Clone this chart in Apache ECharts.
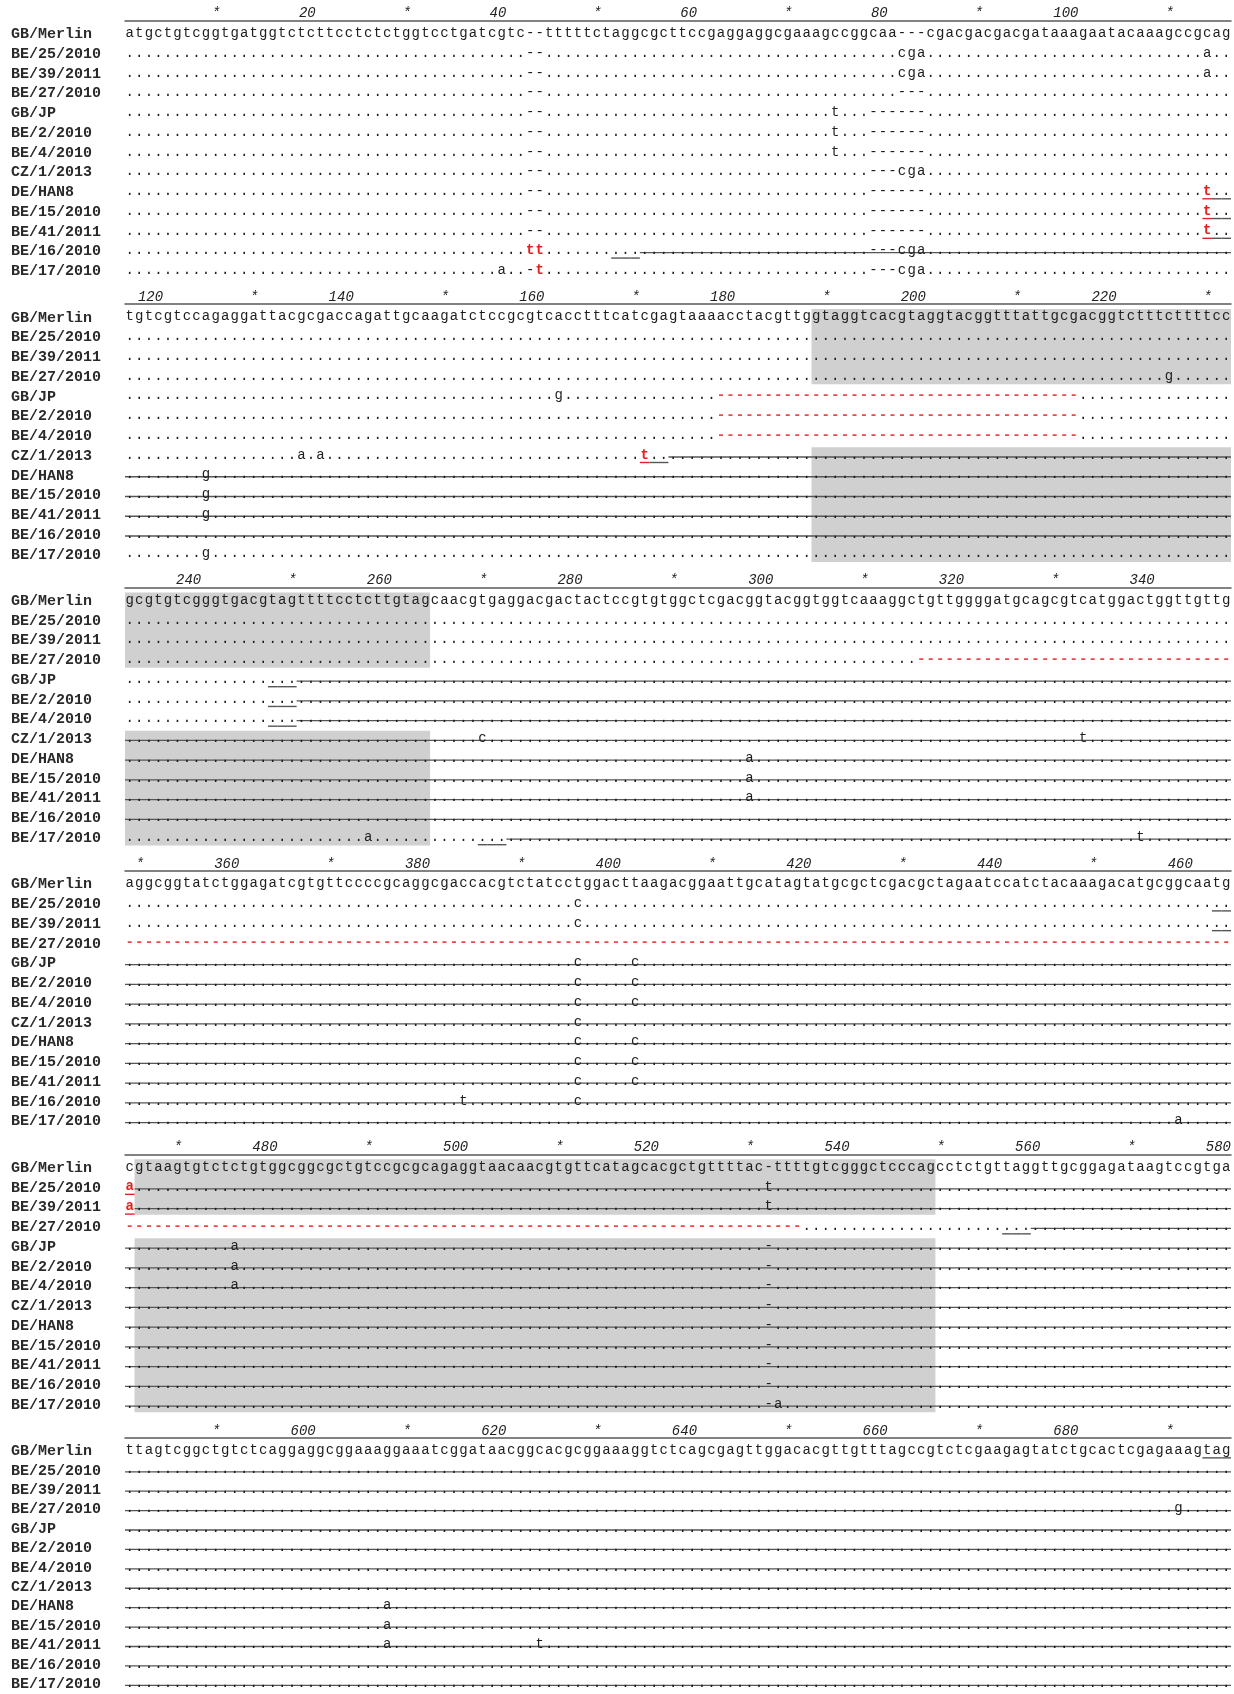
<!DOCTYPE html>
<html>
<head>
<meta charset="utf-8">
<script src="https://cdn.jsdelivr.net/npm/echarts@6/dist/echarts.min.js"></script>
<style>
  html, body { margin: 0; padding: 0; background: #ffffff; }
  #chart { width: 1234px; height: 1694px; }
</style>
</head>
<body>
<div id="chart"></div>
<script>
// ---- alignment data -------------------------------------------------------
const taxa = ['GB/Merlin', 'BE/25/2010', 'BE/39/2011', 'BE/27/2010', 'GB/JP', 'BE/2/2010',
  'BE/4/2010', 'CZ/1/2013', 'DE/HAN8', 'BE/15/2010', 'BE/41/2011', 'BE/16/2010', 'BE/17/2010'];

// first alignment column of each printed block; every block holds 116 columns
const blockStarts = [1, 117, 233, 349, 465, 581];
const blockWidth = 116;

// '.' = identical to GB/Merlin, '-' = gap
const D = '..........';
const G = '----------';

const block1 = [
  'atgctgtcggtgatggtctcttcctctctggtcctgatcgtc--tttttctaggcgcttccgaggaggcgaaagccggcaa---cgacgacgacgataaagaatacaaagccgcag',
  D + D + D + D + '..--......' + D + D + D + '.cga......' + D + D + '...a..',
  D + D + D + D + '..--......' + D + D + D + '.cga......' + D + D + '...a..',
  D + D + D + D + '..--......' + D + D + D + '.---......' + D + D + '......',
  D + D + D + D + '..--......' + D + D + '....t...--' + '----......' + D + D + '......',
  D + D + D + D + '..--......' + D + D + '....t...--' + '----......' + D + D + '......',
  D + D + D + D + '..--......' + D + D + '....t...--' + '----......' + D + D + '......',
  D + D + D + D + '..--......' + D + D + '........--' + '-cga......' + D + D + '......',
  D + D + D + D + '..--......' + D + D + '........--' + '----......' + D + D + '...t..',
  D + D + D + D + '..--......' + D + D + '........--' + '----......' + D + D + '...t..',
  D + D + D + D + '..--......' + D + D + '........--' + '----......' + D + D + '...t..',
  D + D + D + D + '..tt......' + D + D + '........--' + '-cga......' + D + D + '......',
  D + D + D + '.........a' + '..-t......' + D + D + '........--' + '-cga......' + D + D + '......'
];

const block2 = [
  'tgtcgtccagaggattacgcgaccagattgcaagatctccgcgtcacctttcatcgagtaaaacctacgttggtaggtcacgtaggtacggtttattgcgacggtctttcttttcc',
  D + D + D + D + D + D + D + D + D + D + D + '......',
  D + D + D + D + D + D + D + D + D + D + D + '......',
  D + D + D + D + D + D + D + D + D + D + '.........g' + '......',
  D + D + D + D + '.....g....' + D + '..--------' + G + G + G + D + '......',
  D + D + D + D + D + D + '..--------' + G + G + G + D + '......',
  D + D + D + D + D + D + '..--------' + G + G + G + D + '......',
  D + '........a.' + 'a.........' + D + D + '....t.....' + D + D + D + D + D + '......',
  '........g.' + D + D + D + D + D + D + D + D + D + D + '......',
  '........g.' + D + D + D + D + D + D + D + D + D + D + '......',
  '........g.' + D + D + D + D + D + D + D + D + D + D + '......',
  D + D + D + D + D + D + D + D + D + D + D + '......',
  '........g.' + D + D + D + D + D + D + D + D + D + D + '......'
];

const block3 = [
  'gcgtgtcgggtgacgtagttttcctcttgtagcaacgtgaggacgactactccgtgtggctcgacggtacggtggtcaaaggctgttggggatgcagcgtcatggactggttgttg',
  D + D + D + D + D + D + D + D + D + D + D + '......',
  D + D + D + D + D + D + D + D + D + D + D + '......',
  D + D + D + D + D + D + D + D + '...-------' + G + G + '------',
  D + D + D + D + D + D + D + D + D + D + D + '......',
  D + D + D + D + D + D + D + D + D + D + D + '......',
  D + D + D + D + D + D + D + D + D + D + D + '......',
  D + D + D + '.......c..' + D + D + D + D + D + D + 't.........' + '......',
  D + D + D + D + D + D + '.....a....' + D + D + D + D + '......',
  D + D + D + D + D + D + '.....a....' + D + D + D + D + '......',
  D + D + D + D + D + D + '.....a....' + D + D + D + D + '......',
  D + D + D + D + D + D + D + D + D + D + D + '......',
  D + D + '.....a....' + D + D + D + D + D + D + D + '......t...' + '......'
];

const block4 = [
  'aggcggtatctggagatcgtgttccccgcaggcgaccacgtctatcctggacttaagacggaattgcatagtatgcgctcgacgctagaatccatctacaaagacatgcggcaatg',
  D + D + D + D + '.......c..' + D + D + D + D + D + D + '......',
  D + D + D + D + '.......c..' + D + D + D + D + D + D + '......',
  G + G + G + G + G + G + G + G + G + G + G + '------',
  D + D + D + D + '.......c..' + '...c......' + D + D + D + D + D + '......',
  D + D + D + D + '.......c..' + '...c......' + D + D + D + D + D + '......',
  D + D + D + D + '.......c..' + '...c......' + D + D + D + D + D + '......',
  D + D + D + D + '.......c..' + D + D + D + D + D + D + '......',
  D + D + D + D + '.......c..' + '...c......' + D + D + D + D + D + '......',
  D + D + D + D + '.......c..' + '...c......' + D + D + D + D + D + '......',
  D + D + D + D + '.......c..' + '...c......' + D + D + D + D + D + '......',
  D + D + D + '.....t....' + '.......c..' + D + D + D + D + D + D + '......',
  D + D + D + D + D + D + D + D + D + D + D + 'a.....'
];

const block5 = [
  'cgtaagtgtctctgtggcggcgctgtccgcgcagaggtaacaacgtgttcatagcacgctgttttac-ttttgtcgggctcccagcctctgttaggttgcggagataagtccgtga',
  'a.........' + D + D + D + D + D + '.......t..' + D + D + D + D + '......',
  'a.........' + D + D + D + D + D + '.......t..' + D + D + D + D + '......',
  G + G + G + G + G + G + G + '-.........' + D + D + D + '......',
  D + '.a........' + D + D + D + D + '.......-..' + D + D + D + D + '......',
  D + '.a........' + D + D + D + D + '.......-..' + D + D + D + D + '......',
  D + '.a........' + D + D + D + D + '.......-..' + D + D + D + D + '......',
  D + D + D + D + D + D + '.......-..' + D + D + D + D + '......',
  D + D + D + D + D + D + '.......-..' + D + D + D + D + '......',
  D + D + D + D + D + D + '.......-..' + D + D + D + D + '......',
  D + D + D + D + D + D + '.......-..' + D + D + D + D + '......',
  D + D + D + D + D + D + '.......-..' + D + D + D + D + '......',
  D + D + D + D + D + D + '.......-a.' + D + D + D + D + '......'
];

const block6 = [
  'ttagtcggctgtctcaggaggcggaaaggaaatcggataacggcacgcggaaaggtctcagcgagttggacacgttgtttagccgtctcgaagagtatctgcactcgagaaagtag',
  D + D + D + D + D + D + D + D + D + D + D + '......',
  D + D + D + D + D + D + D + D + D + D + D + '......',
  D + D + D + D + D + D + D + D + D + D + D + 'g.....',
  D + D + D + D + D + D + D + D + D + D + D + '......',
  D + D + D + D + D + D + D + D + D + D + D + '......',
  D + D + D + D + D + D + D + D + D + D + D + '......',
  D + D + D + D + D + D + D + D + D + D + D + '......',
  D + D + '.......a..' + D + D + D + D + D + D + D + D + '......',
  D + D + '.......a..' + D + D + D + D + D + D + D + D + '......',
  D + D + '.......a..' + D + '...t......' + D + D + D + D + D + D + '......',
  D + D + D + D + D + D + D + D + D + D + D + '......',
  D + D + D + D + D + D + D + D + D + D + D + '......'
];

const blocks = [block1, block2, block3, block4, block5, block6];

// residues printed in red: [taxon, first column, last column]
const redMarks = [
  ['DE/HAN8', 114, 114], ['BE/15/2010', 114, 114], ['BE/41/2011', 114, 114],
  ['BE/16/2010', 43, 44], ['BE/17/2010', 44, 44],
  ['GB/JP', 179, 216], ['BE/2/2010', 179, 216], ['BE/4/2010', 179, 216],
  ['CZ/1/2013', 171, 171],
  ['BE/27/2010', 316, 535],
  ['BE/25/2010', 465, 465], ['BE/39/2011', 465, 465]
];

// first column of the (premature) stop codon of each sequence
const stopCodons = [
  ['GB/Merlin', 694], ['BE/25/2010', 463], ['BE/39/2011', 463], ['BE/27/2010', 557],
  ['GB/JP', 248], ['BE/2/2010', 248], ['BE/4/2010', 248], ['CZ/1/2013', 171],
  ['DE/HAN8', 114], ['BE/15/2010', 114], ['BE/41/2011', 114], ['BE/16/2010', 52], ['BE/17/2010', 270]
];
const lastColumn = 696;

// intron regions, with the sequences in which they are present
const introns = [
  { from: 189, to: 264, taxa: ['GB/Merlin', 'BE/25/2010', 'BE/39/2011', 'BE/27/2010', 'CZ/1/2013',
      'DE/HAN8', 'BE/15/2010', 'BE/41/2011', 'BE/16/2010', 'BE/17/2010'] },
  { from: 466, to: 549, taxa: ['GB/Merlin', 'BE/25/2010', 'BE/39/2011', 'GB/JP', 'BE/2/2010',
      'BE/4/2010', 'CZ/1/2013', 'DE/HAN8', 'BE/15/2010', 'BE/41/2011', 'BE/16/2010', 'BE/17/2010'] }
];

// ---- layout / style -------------------------------------------------------
const MONO = "'Liberation Mono', 'DejaVu Sans Mono', monospace";
const rowH = 19.75;
const firstRowY = 34.3;
const blockStep = 283.45;
const ink = '#1e1e1e';
const redInk = '#e3221d';
const redGap = '#f04848';
const shadeFill = '#d0d0d0';
const ruleInk = '#5a5a5a';

function isRed(row, col) {
  const name = taxa[row];
  return redMarks.some(m => m[0] === name && col >= m[1] && col <= m[2]);
}

const grids = [], xAxes = [], yAxes = [], series = [];

blocks.forEach((rows, b) => {
  const start = blockStarts[b];
  const end = start + blockWidth - 1;
  grids.push({ left: 125, width: 1107, top: firstRowY + blockStep * b - rowH / 2, height: rowH * taxa.length });

  xAxes.push({
    gridIndex: b, type: 'value', min: 0, max: blockWidth, interval: 1,
    position: 'top', offset: 3.7,
    axisLine: { show: true, lineStyle: { color: ruleInk, width: 1.5 } },
    axisTick: { show: false }, splitLine: { show: false },
    axisLabel: {
      margin: 0, align: 'right', fontFamily: MONO, fontStyle: 'italic', fontSize: 14, color: '#222',
      formatter: v => {
        if (v < 1) return '';
        const col = start + v - 1;
        if (col % 20 === 0) return String(col);
        if (col % 10 === 0) return '*';
        return '';
      }
    }
  });

  yAxes.push({
    gridIndex: b, type: 'category', data: taxa, inverse: true,
    axisLine: { show: false }, axisTick: { show: false }, splitLine: { show: false },
    axisLabel: { interval: 0, align: 'left', margin: 114, fontFamily: MONO, fontSize: 15, fontWeight: 'bold', color: '#2a2a2a' }
  });

  // grey intron boxes, one per run of adjacent rows
  const boxes = [];
  introns.forEach(intr => {
    const a = Math.max(intr.from, start), z = Math.min(intr.to, end);
    if (a > z) return;
    let run = null;
    taxa.forEach((name, r) => {
      if (intr.taxa.includes(name)) {
        if (run) run[3] = r; else { run = [a - start, z - start + 1, r, r]; boxes.push(run); }
      } else run = null;
    });
  });
  series.push({
    type: 'custom', xAxisIndex: b, yAxisIndex: b, silent: true, animation: false, z: 1,
    data: boxes,
    renderItem: (params, api) => {
      const p1 = api.coord([api.value(0), api.value(2)]);
      const p2 = api.coord([api.value(1), api.value(3)]);
      return { type: 'rect', shape: { x: p1[0], y: p1[1] - 8.8, width: p2[0] - p1[0], height: p2[1] - p1[1] + 16 },
        style: { fill: shadeFill } };
    }
  });

  // stop-codon underlines and the strike-through of everything after a stop
  const rules = [];
  stopCodons.forEach(([name, s]) => {
    const r = taxa.indexOf(name);
    for (let c = s; c < s + 3; c++) {
      if (c >= start && c <= end) rules.push([c - start, c - start + 1, r, isRed(r, c) ? 1 : 0, 1]);
    }
    const a = Math.max(s + 3, start), z = Math.min(lastColumn, end);
    if (a <= z) rules.push([a - start, z - start + 1, r, 0, 0]);
  });
  series.push({
    type: 'custom', xAxisIndex: b, yAxisIndex: b, silent: true, animation: false, z: 2,
    data: rules,
    renderItem: (params, api) => {
      const under = api.value(4) === 1;
      const p1 = api.coord([api.value(0), api.value(2)]);
      const p2 = api.coord([api.value(1), api.value(2)]);
      const y = p1[1] + (under ? 6.5 : 1);
      return { type: 'line', shape: { x1: p1[0], y1: y, x2: p2[0], y2: y },
        style: { stroke: api.value(3) === 1 ? redInk : '#555', lineWidth: under ? 1.4 : 1.3 } };
    }
  });

  // residues
  const cells = [];
  rows.forEach((seq, r) => {
    for (let i = 0; i < seq.length; i++) cells.push({ i, r, ch: seq[i], red: isRed(r, start + i) });
  });
  series.push({
    type: 'custom', xAxisIndex: b, yAxisIndex: b, silent: true, animation: false, z: 3,
    data: cells.map(c => [c.i + 0.5, c.r]),
    renderItem: (params, api) => {
      const c = cells[params.dataIndex];
      const p = api.coord([api.value(0), api.value(1)]);
      const gap = c.ch === '-';
      return {
        type: 'text', x: p[0], y: p[1] - 1,
        style: {
          text: c.ch, align: 'center', verticalAlign: 'middle',
          fontFamily: MONO, fontSize: 14,
          fontWeight: c.red ? 'bold' : 'normal',
          fill: c.red ? (gap ? redGap : redInk) : ink
        }
      };
    }
  });
});

const chart = echarts.init(document.getElementById('chart'), null, { renderer: 'canvas' });
chart.setOption({
  backgroundColor: '#ffffff',
  animation: false,
  grid: grids,
  xAxis: xAxes,
  yAxis: yAxes,
  series: series
});

// sanity check on the sequence lengths
const bad = [];
blocks.forEach((rows, b) => rows.forEach((s, r) => { if (s.length !== blockWidth) bad.push(`block${b + 1} row${r}: ${s.length}`); }));
if (bad.length) setTimeout(() => { throw new Error('length mismatch ' + bad.join(', ')); }, 500);
</script>
</body>
</html>
